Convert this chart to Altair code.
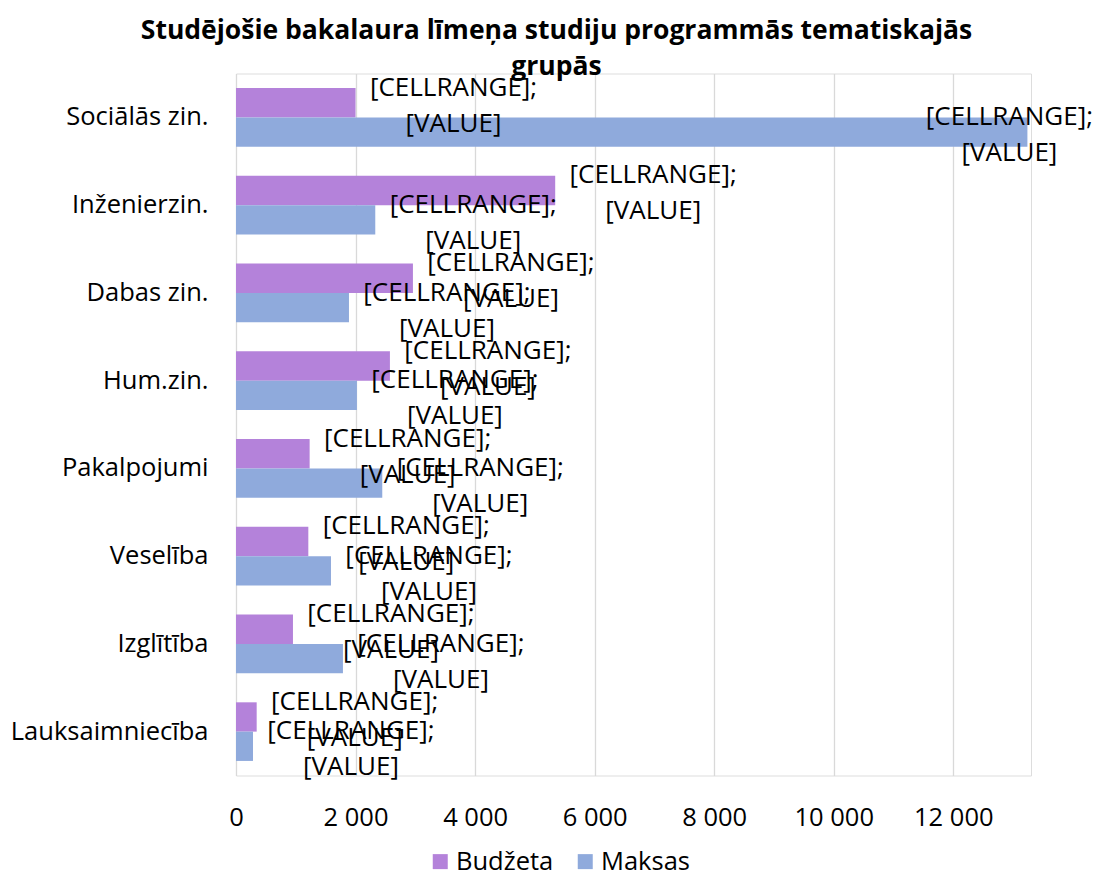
import altair as alt
import pandas as pd

categories = ["Sociālās zin.", "Inženierzin.", "Dabas zin.", "Hum.zin.",
              "Pakalpojumi", "Veselība", "Izglītība", "Lauksaimniecība"]
series_names = ["Budžeta", "Maksas"]
budzeta = [2000, 5340, 2960, 2575, 1232, 1210, 953, 346]
maksas = [13240, 2330, 1890, 2023, 2447, 1589, 1789, 284]
tick_values = [0, 2000, 4000, 6000, 8000, 10000, 12000]
colors = ["#B482DA", "#8FAADC"]
title_lines = ["Studējošie bakalaura līmeņa studiju programmās tematiskajās", "grupās"]
label_lines = ["[CELLRANGE];", "[VALUE]"]

rows = []
for i, c in enumerate(categories):
    rows.append({"cat": c, "series": series_names[0], "value": budzeta[i]})
    rows.append({"cat": c, "series": series_names[1], "value": maksas[i]})
df = pd.DataFrame(rows)

FONT = "Open Sans"

x_enc = alt.X("value:Q",
              scale=alt.Scale(domain=[0, 13300], nice=False, zero=True),
              axis=alt.Axis(values=tick_values, title=None, ticks=False, domain=False,
                            grid=True, gridColor="#D9D9D9", gridWidth=1.3,
                            labelFont=FONT, labelFontSize=25.5, labelColor="#000000",
                            labelBaseline="middle", labelPadding=42, labelFlush=False,
                            labelExpr="replace(format(datum.value, ','), ',', ' ')"))
y_enc = alt.Y("cat:N", sort=categories,
              scale=alt.Scale(paddingInner=0.332, paddingOuter=0.166),
              axis=alt.Axis(title=None, ticks=False, domain=False,
                            labelFont=FONT, labelFontSize=25.5, labelColor="#000000",
                            labelPadding=28, labelLimit=400))
yoff = alt.YOffset("series:N", sort=series_names,
                   scale=alt.Scale(paddingInner=0, paddingOuter=0))

base = alt.Chart(df)

bars = base.mark_bar().encode(
    x=x_enc, y=y_enc, yOffset=yoff,
    color=alt.Color("series:N", sort=series_names,
                    scale=alt.Scale(domain=series_names, range=colors),
                    legend=alt.Legend(title=None, orient="none", direction="horizontal",
                                      legendX=191.5, legendY=775, symbolType="square",
                                      symbolSize=225, symbolStrokeWidth=0,
                                      labelFont=FONT, labelFontSize=25.5, labelColor="#000000",
                                      labelOffset=3, columnPadding=19, padding=0))
)

labels_normal = base.transform_filter("datum.value <= 12000").mark_text(
    text=label_lines, lineHeight=36, font=FONT, fontSize=26, color="#000000",
    align="center", baseline="middle", dx=98, dy=-15
).encode(x="value:Q", y=alt.Y("cat:N", sort=categories), yOffset=alt.YOffset("series:N", sort=series_names))

labels_edge = base.transform_filter("datum.value > 12000").mark_text(
    text=label_lines, lineHeight=36, font=FONT, fontSize=26, color="#000000",
    align="center", baseline="middle", dx=-18, dy=-15
).encode(x="value:Q", y=alt.Y("cat:N", sort=categories), yOffset=alt.YOffset("series:N", sort=series_names))

chart = alt.layer(bars, labels_normal, labels_edge).properties(
    width=795, height=702,
    title=alt.Title(text=title_lines, font=FONT, fontSize=26.5, fontWeight="bold",
                    color="#000000", anchor="middle", dx=-77, dy=3, offset=-4, lineHeight=36),
    autosize=alt.AutoSizeParams(type="none"),
    padding={"left": 228, "top": 65.5, "right": 62, "bottom": 96.5},
).configure_view(stroke=None).configure(background="#FFFFFF")

chart.save("out.html", embed_options={"renderer": "svg", "actions": False})
